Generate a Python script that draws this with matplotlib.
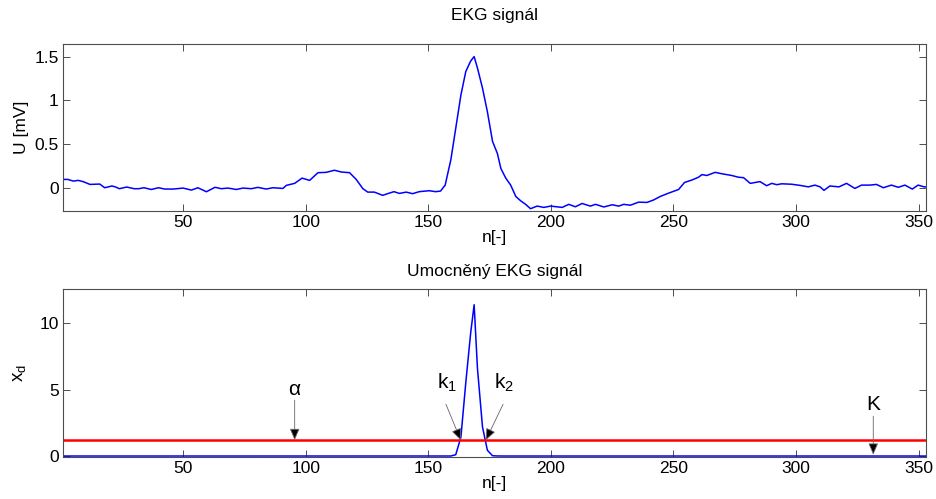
import numpy as np
import matplotlib
matplotlib.use("Agg")
import matplotlib.pyplot as plt

plt.rcParams['font.family'] = ['Liberation Sans', 'DejaVu Sans']
plt.rcParams['mathtext.default'] = 'regular'

# EKG signal (n, U in mV)
n = [1, 3, 5.2, 7.2, 9.3, 12, 16, 18, 21, 22.5, 24, 27, 30, 32, 34, 37, 40, 42.5, 46, 50,
     53.4, 56, 59.5, 63, 65.6, 68.3, 71.7, 74.4, 77.8, 80.5, 83.9, 86.6, 90.7, 92.1, 95.5,
     98.5, 101.6, 105, 108.4, 111.7, 114.5, 117.9, 120.6, 123.3, 125.3, 128, 131.4, 133.4,
     136, 138.2, 141, 143.6, 146.3, 150.4, 153, 155, 156.9, 157.2, 159.2, 161.2, 163.3,
     165.3, 167.3, 168.7, 170.05, 172.1, 174.1, 176.2, 178.2, 179.6, 181.6, 183.6, 185.7,
     187.7, 189.7, 191.7, 194.4, 197.1, 199.9, 202.6, 204.6, 207.3, 210, 212.7, 216.1,
     218.2, 221.6, 225, 227.7, 229.7, 232.4, 235.8, 239.2, 241.9, 244.6, 248, 252.1,
     254.5, 257.5, 260.2, 261.6, 263.6, 267, 269.7, 273.8, 276.5, 278.6, 281.3, 285.3,
     288, 290.1, 292.1, 294.2, 298.2, 301.6, 305, 307.7, 309.8, 311.4, 313.8, 317.5,
     320.6, 324, 326.7, 330.1, 332.8, 335.6, 338.9, 341.7, 344.4, 347.4, 349.8, 352.2, 353]
U = [0.095, 0.095, 0.076, 0.084, 0.069, 0.038, 0.042, 0.0, 0.02, 0.008, -0.011, 0.008,
     -0.011, -0.011, 0.0, -0.02, 0.0, -0.015, -0.015, -0.004, -0.027, 0.0, -0.046, 0.005,
     -0.011, -0.004, -0.02, -0.004, -0.011, 0.004, -0.015, 0.0, -0.008, 0.027, 0.05,
     0.11, 0.084, 0.172, 0.176, 0.20, 0.18, 0.172, 0.095, -0.01, -0.05, -0.05, -0.087,
     -0.068, -0.045, -0.065, -0.05, -0.068, -0.045, -0.034, -0.045, -0.038, 0.03, 0.07,
     0.32, 0.68, 1.06, 1.33, 1.45, 1.50, 1.37, 1.14, 0.87, 0.53, 0.39, 0.22, 0.11, 0.03,
     -0.10, -0.15, -0.19, -0.24, -0.21, -0.225, -0.21, -0.218, -0.225, -0.19, -0.218,
     -0.18, -0.21, -0.19, -0.22, -0.195, -0.21, -0.19, -0.2, -0.165, -0.168, -0.14,
     -0.10, -0.062, -0.02, 0.06, 0.088, 0.12, 0.15, 0.14, 0.176, 0.16, 0.14, 0.12, 0.115,
     0.05, 0.07, 0.023, 0.05, 0.035, 0.045, 0.04, 0.027, 0.01, 0.03, 0.01, -0.03, 0.02,
     0.01, 0.05, -0.008, 0.03, 0.03, 0.038, 0.0, 0.03, 0.005, 0.03, -0.015, 0.03, 0.01,
     0.01]
prah = 1.2   # threshold alpha

n = np.array(n)
U = np.array(U)
xd = U ** 6  # umocneny signal

fs = 12.5
fig = plt.figure(figsize=(9.36, 4.99), dpi=100)
ax1 = fig.add_axes([0.0673, 0.577, 0.922, 0.335])
ax2 = fig.add_axes([0.0673, 0.084, 0.922, 0.337])

for ax in (ax1, ax2):
    ax.tick_params(direction='in', top=True, right=True, length=5, width=0.7,
                   labelsize=fs, color='0.3', pad=3)
    for s in ax.spines.values():
        s.set_color('0.3')
        s.set_linewidth(0.8)
    ax.set_xlim(1, 353)
    ax.set_xticks([50, 100, 150, 200, 250, 300, 350])

ax1.plot(n, U, color='b', lw=1.1)
ax1.set_ylim(-0.267, 1.645)
ax1.set_yticks([0, 0.5, 1, 1.5])
ax1.set_yticklabels(['0', '0.5', '1', '1.5'])
ax1.set_title('EKG signál', fontsize=fs, pad=17)
ax1.set_xlabel('n[-]', fontsize=fs, labelpad=0)
ax1.set_ylabel('U [mV]', fontsize=fs, labelpad=4)

ax2.plot(n, xd, color='b', lw=1.1)
ax2.axhline(prah, color='r', lw=1.8)
ax2.set_ylim(-0.08, 12.58)
ax2.set_yticks([0, 5, 10])
ax2.set_title('Umocněný EKG signál', fontsize=fs, pad=9)
ax2.set_xlabel('n[-]', fontsize=fs, labelpad=0)
ax2.set_ylabel('x$_d$', fontsize=fs + 1, labelpad=8)

arr = dict(arrowstyle='-|>,head_length=0.7,head_width=0.3', ec='0.4', fc='k',
           lw=0.6, shrinkA=0, shrinkB=0)
afs = 15
ax2.annotate('', xy=(95.5, prah), xytext=(95.5, 4.2), arrowprops=arr)
ax2.text(95.5, 5.0, 'α', fontsize=afs, ha='center', va='center')
ax2.annotate('', xy=(163.2, prah), xytext=(157.2, 3.9), arrowprops=arr)
ax2.text(157.5, 5.5, 'k$_1$', fontsize=afs, ha='center', va='center')
ax2.annotate('', xy=(173.5, prah), xytext=(180.5, 3.9), arrowprops=arr)
ax2.text(181, 5.5, 'k$_2$', fontsize=afs, ha='center', va='center')
ax2.annotate('', xy=(331.5, 0.1), xytext=(331.5, 3.0), arrowprops=arr)
ax2.text(331.5, 3.9, 'K', fontsize=afs, ha='center', va='center')

fig.savefig('out.png', dpi=100)
